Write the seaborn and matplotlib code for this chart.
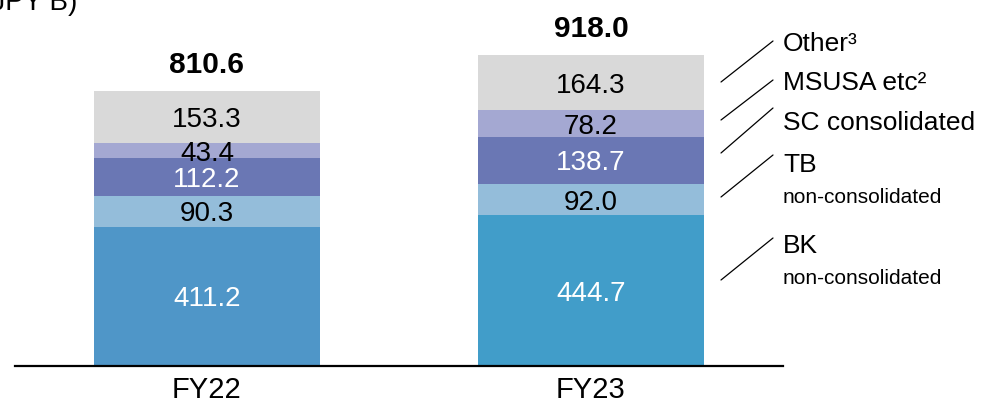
import matplotlib
matplotlib.use('Agg')
import pandas as pd
import seaborn as sns
import matplotlib.pyplot as plt
from matplotlib.lines import Line2D

years = ['FY22', 'FY23']
bk = [411.2, 444.7]
tb = [90.3, 92.0]
sc = [112.2, 138.7]
msusa = [43.4, 78.2]
other = [153.3, 164.3]
totals = [810.6, 918.0]

legend_labels = ['Other³', 'MSUSA etc²', 'SC consolidated', 'TB\nnon-consolidated', 'BK\nnon-consolidated']

sns.set_style('white')
plt.rcParams['font.family'] = ['Liberation Sans', 'DejaVu Sans']
plt.rcParams['text.color'] = 'black'
plt.rcParams['xtick.color'] = 'black'
plt.rcParams['xtick.labelcolor'] = 'black'

W, H = 982, 405
fig = plt.figure(figsize=(W / 100, H / 100), dpi=100)
ax = fig.add_axes([15 / W, 39 / H, (783 - 15) / W, 366 / H])

# BK bars have a slightly different blue per year
bk_df = pd.DataFrame({'year': years, 'val': bk})
sns.barplot(data=bk_df, x='year', y='val', hue='year', palette=['#4F96C8', '#419DC9'], legend=False,
            width=0.59, saturation=1, ax=ax, linewidth=0)
for i in range(len(years)):
    ax.text(i, bk[i] / 2, f'{bk[i]:.1f}', ha='center', va='center_baseline', fontsize=20, color='white')

# remaining stacked segments, bottom to top
segments = [
    (tb, '#94BDDA', 'black'),
    (sc, '#6A77B4', 'white'),
    (msusa, '#A4A8D2', 'black'),
    (other, '#D9D9D9', 'black'),
]
bottom = list(bk)
for vals, col, tcol in segments:
    sns.barplot(x=years, y=vals, color=col, bottom=bottom, width=0.59, saturation=1, ax=ax, linewidth=0)
    for i in range(len(years)):
        ax.text(i, bottom[i] + vals[i] / 2, f'{vals[i]:.1f}', ha='center', va='center_baseline',
                fontsize=20, color=tcol)
    bottom = [b + v for b, v in zip(bottom, vals)]

for i, t in enumerate(totals):
    ax.annotate(f'{t:.1f}', xy=(i, bottom[i]), xytext=(0, 13), textcoords='offset points',
                ha='center', va='baseline', fontsize=21.5, fontweight='bold')

ax.set_xlim(-0.5, 1.5)
ax.set_ylim(0, 366 / 0.3391)
ax.set_xlabel('')
ax.set_ylabel('')
ax.set_yticks([])
ax.tick_params(axis='x', length=0, pad=7, labelsize=21)
for s in ['top', 'left', 'right']:
    ax.spines[s].set_visible(False)
ax.spines['bottom'].set_color('black')
ax.spines['bottom'].set_linewidth(1.6)


def fx(px):
    return px / W


def fy(py):
    return 1 - py / H


# leader lines and legend labels on the right
leaders = [(82, 41), (120, 80), (153, 108), (197, 155), (280, 238)]
label_y = [51, 90, 130, 172, 253]
for (y0, y1), ly, lab in zip(leaders, label_y, legend_labels):
    fig.add_artist(Line2D([fx(721), fx(773)], [fy(y0), fy(y1)], color='black', lw=0.9))
    parts = lab.split('\n')
    fig.text(fx(783), fy(ly), parts[0], fontsize=19, va='baseline', ha='left')
    if len(parts) > 1:
        fig.text(fx(783), fy(ly + 31), parts[1], fontsize=15, va='baseline', ha='left')

# unit label, cut off at the top of the picture
fig.text(fx(77), fy(10), '(JPY B)', fontsize=20, ha='right', va='baseline')

fig.savefig('out.png', dpi=100)
